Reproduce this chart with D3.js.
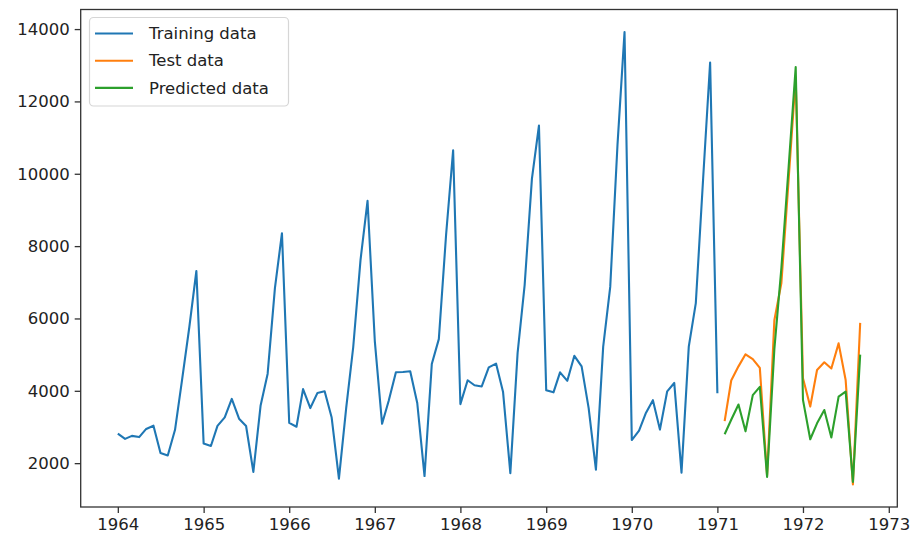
<!DOCTYPE html>
<html>
<head>
<meta charset="utf-8">
<script src="https://cdn.jsdelivr.net/npm/d3@7"></script>
<style>
  html, body { margin: 0; padding: 0; background: #fff; }
  svg { display: block; }
  text { font-family: "DejaVu Sans", sans-serif; }
</style>
</head>
<body>
<div id="chart"></div>
<script>
// ---------- data ----------
const trainStart = [1964, 0];   // Jan 1964
const trainingValues = [
  2815, 2672, 2755, 2721, 2946, 3036, 2282, 2212, 2922, 4301, 5764, 7312,
  2541, 2475, 3031, 3266, 3776, 3230, 3028, 1759, 3595, 4474, 6838, 8357,
  3113, 3006, 4047, 3523, 3937, 3986, 3260, 1573, 3528, 5211, 7614, 9254,
  5375, 3088, 3718, 4514, 4520, 4539, 3663, 1643, 4739, 5428, 8314, 10651,
  3633, 4292, 4154, 4121, 4647, 4753, 3965, 1723, 5048, 6922, 9858, 11331,
  4016, 3957, 4510, 4276, 4968, 4677, 3523, 1821, 5222, 6872, 10803, 13916,
  2639, 2899, 3370, 3740, 2927, 3986, 4217, 1738, 5221, 6424, 9842, 13076,
  3934
];
const testStart = [1971, 1];    // Feb 1971
const testValues = [
  3162, 4286, 4676, 5010, 4874, 4633, 1659, 5951, 6981, 9851, 12670,
  4348, 3564, 4577, 4788, 4618, 5312, 4298, 1413, 5877
];
const predStart = [1971, 1];    // Feb 1971
const predictedValues = [
  2800, 3200, 3620, 2880, 3880, 4110, 1620, 5150, 7400, 10200, 12950,
  3750, 2660, 3100, 3470, 2710, 3840, 3980, 1480, 5000
];
const seriesNames = ["Training data", "Test data", "Predicted data"];
const seriesColors = ["#1f77b4", "#ff7f0e", "#2ca02c"];
const yTickValues = [2000, 4000, 6000, 8000, 10000, 12000, 14000];
const xTickYears = [1964, 1965, 1966, 1967, 1968, 1969, 1970, 1971, 1972, 1973];

// ---------- build ----------
function toPoints(start, vals) {
  return vals.map((v, i) => ({ date: new Date(start[0], start[1] + i, 1), value: v }));
}
const series = [
  toPoints(trainStart, trainingValues),
  toPoints(testStart, testValues),
  toPoints(predStart, predictedValues)
];

const W = 919, H = 538;
const plot = { left: 80.7, right: 897.3, top: 9.5, bottom: 507 };

const all = series.flat();
const tMin = d3.min(all, d => +d.date), tMax = d3.max(all, d => +d.date);
const tPad = (tMax - tMin) * 0.05;
const vMin = d3.min(all, d => d.value), vMax = d3.max(all, d => d.value);
const vPad = (vMax - vMin) * 0.05;

const x = d3.scaleTime()
  .domain([new Date(tMin - tPad), new Date(tMax + tPad)])
  .range([plot.left, plot.right]);
const y = d3.scaleLinear()
  .domain([vMin - vPad, vMax + vPad])
  .range([plot.bottom, plot.top]);

const svg = d3.select("#chart").append("svg")
  .attr("width", W).attr("height", H);

const line = d3.line().x(d => x(d.date)).y(d => y(d.value));

svg.append("g").selectAll("path")
  .data(series)
  .join("path")
  .attr("d", d => line(d))
  .attr("fill", "none")
  .attr("stroke", (d, i) => seriesColors[i])
  .attr("stroke-width", 2.1)
  .attr("stroke-linejoin", "round");

// axes
const xAxis = d3.axisBottom(x)
  .tickValues(xTickYears.map(yr => new Date(yr, 0, 1)))
  .tickFormat(d3.timeFormat("%Y"))
  .tickSize(6).tickPadding(5);
const gx = svg.append("g")
  .attr("transform", `translate(0,${plot.bottom})`)
  .call(xAxis);
gx.select(".domain").remove();
gx.selectAll("line").attr("stroke", "#333").attr("stroke-width", 1.3);
gx.selectAll("text").attr("font-size", 16.5).attr("fill", "#222")
  .attr("font-family", "DejaVu Sans, sans-serif");

const yAxis = d3.axisLeft(y)
  .tickValues(yTickValues)
  .tickFormat(d3.format("d"))
  .tickSize(6).tickPadding(5);
const gy = svg.append("g")
  .attr("transform", `translate(${plot.left},0)`)
  .call(yAxis);
gy.select(".domain").remove();
gy.selectAll("line").attr("stroke", "#333").attr("stroke-width", 1.3);
gy.selectAll("text").attr("font-size", 16.5).attr("fill", "#222")
  .attr("font-family", "DejaVu Sans, sans-serif");

// frame
svg.append("rect")
  .attr("x", plot.left).attr("y", plot.top)
  .attr("width", plot.right - plot.left)
  .attr("height", plot.bottom - plot.top)
  .attr("fill", "none").attr("stroke", "#333").attr("stroke-width", 1.3);

// legend
const lg = svg.append("g");
lg.append("rect")
  .attr("x", 89.5).attr("y", 17.5).attr("width", 199).attr("height", 88.5)
  .attr("rx", 4).attr("fill", "#fff").attr("fill-opacity", 0.8)
  .attr("stroke", "#d6d6d6").attr("stroke-width", 1.2);
const rows = lg.selectAll("g.row").data(seriesNames).join("g")
  .attr("class", "row")
  .attr("transform", (d, i) => `translate(0,${33.5 + i * 27.2})`);
rows.append("line")
  .attr("x1", 95).attr("x2", 133).attr("y1", 0).attr("y2", 0)
  .attr("stroke", (d, i) => seriesColors[i]).attr("stroke-width", 2.1);
rows.append("text")
  .attr("x", 149).attr("y", 0).attr("dy", "0.35em")
  .attr("font-size", 16.5).attr("fill", "#222")
  .text(d => d);
</script>
</body>
</html>
